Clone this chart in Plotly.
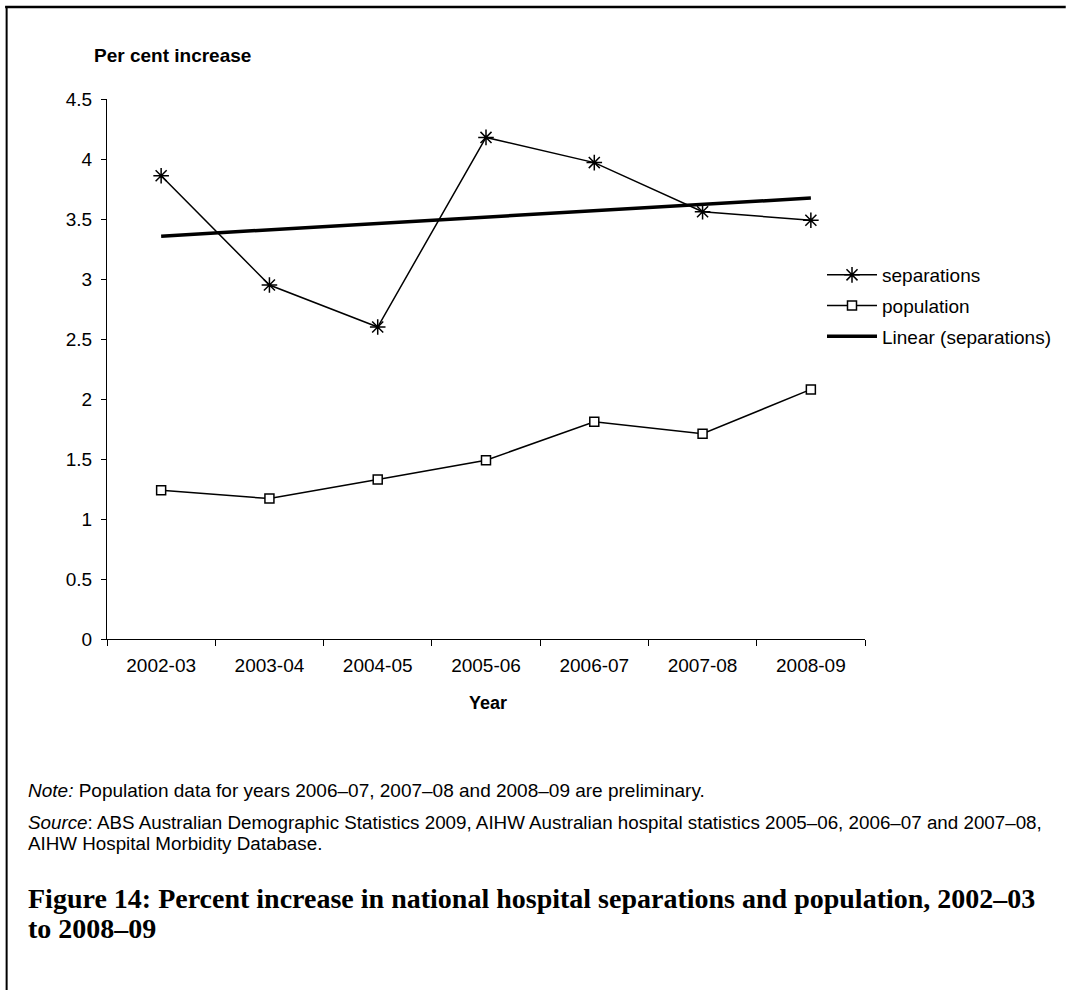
import numpy as np
import plotly.graph_objects as go

years = ["2002-03", "2003-04", "2004-05", "2005-06", "2006-07", "2007-08", "2008-09"]
separations = [3.86, 2.95, 2.60, 4.18, 3.97, 3.56, 3.49]
population = [1.24, 1.17, 1.33, 1.49, 1.81, 1.71, 2.08]
y_ticks = [0, 0.5, 1, 1.5, 2, 2.5, 3, 3.5, 4, 4.5]

# Linear trend of separations (least squares)
xi = np.arange(len(years))
slope, intercept = np.polyfit(xi, separations, 1)
trend = list(intercept + slope * xi)

W, H = 1067, 990
L, R, T, B = 107, 866, 99, 639  # plot area in px


def px(x):
    return (x - L) / (R - L)


def py(y):
    return (B - y) / (B - T)


fig = go.Figure()
fig.add_trace(go.Scatter(
    x=years, y=separations, name="separations", mode="lines+markers",
    line=dict(color="black", width=1.5),
    marker=dict(symbol="asterisk-open", size=13, color="black", line=dict(color="black", width=1.5)),
    legendgroup="a",
))
fig.add_trace(go.Scatter(
    x=years, y=population, name="population", mode="lines+markers",
    line=dict(color="black", width=1.5),
    marker=dict(symbol="square", size=9, color="white", line=dict(color="black", width=1.5)),
    legendgroup="b",
))
fig.add_trace(go.Scatter(
    x=years, y=trend, name="Linear (separations)", mode="lines",
    line=dict(color="black", width=3.5),
    legendgroup="c",
))

font = "Arial, Liberation Sans, sans-serif"
serif = "Book Antiqua, Palatino Linotype, Liberation Serif, serif"

annotations = [
    dict(text="<b>Per cent increase</b>", x=px(92), y=py(55), xanchor="left", yanchor="middle",
         font=dict(size=19, family=font, color="black")),
    dict(text="<b>Year</b>", x=px(489), y=py(703), xanchor="center", yanchor="middle",
         font=dict(size=18, family=font, color="black")),
    dict(text="<i>Note:</i> Population data for years 2006\u201307, 2007\u201308 and 2008\u201309 are preliminary.",
         x=px(26), y=py(790), xanchor="left", yanchor="middle",
         font=dict(size=19, family=font, color="black")),
    dict(text="<i>Source</i>: ABS Australian Demographic Statistics 2009, AIHW Australian hospital statistics 2005\u201306, 2006\u201307 and 2007\u201308,",
         x=px(26), y=py(822), xanchor="left", yanchor="middle",
         font=dict(size=18.8, family=font, color="black")),
    dict(text="AIHW Hospital Morbidity Database.",
         x=px(26), y=py(843), xanchor="left", yanchor="middle",
         font=dict(size=18.8, family=font, color="black")),
    dict(text="<b>Figure 14: Percent increase in national hospital separations and population, 2002\u201303</b>",
         x=px(26), y=py(898), xanchor="left", yanchor="middle",
         font=dict(size=28, family=serif, color="black")),
    dict(text="<b>to 2008\u201309</b>",
         x=px(26), y=py(928), xanchor="left", yanchor="middle",
         font=dict(size=28, family=serif, color="black")),
]
for a in annotations:
    a.update(xref="paper", yref="paper", showarrow=False)

shapes = [
    dict(type="line", xref="paper", yref="paper", x0=px(5), x1=px(1067), y0=py(7), y1=py(7),
         line=dict(color="black", width=2.5)),
    dict(type="line", xref="paper", yref="paper", x0=px(6.5), x1=px(6.5), y0=py(6), y1=py(990),
         line=dict(color="black", width=2)),
]

fig.update_layout(
    width=W, height=H,
    margin=dict(l=L, r=W - R, t=T, b=H - B, pad=0),
    paper_bgcolor="white", plot_bgcolor="white",
    font=dict(family=font, color="black"),
    showlegend=True,
    legend=dict(x=px(822), y=py(256), xanchor="left", yanchor="top",
                font=dict(size=19, family=font, color="black"),
                itemwidth=50,
                traceorder="grouped", tracegroupgap=3, bgcolor="rgba(0,0,0,0)"),
    annotations=annotations,
    shapes=shapes,
)
fig.update_xaxes(
    type="category", range=[-0.5, 6.5], tickson="boundaries",
    showline=True, linecolor="black", linewidth=1,
    ticks="outside", ticklen=6, tickcolor="black",
    ticklabelstandoff=9,
    showgrid=False, zeroline=False,
    tickfont=dict(size=19, family=font, color="black"),
)
fig.update_yaxes(
    range=[0, 4.5], tickvals=y_ticks, ticktext=[f"{v:g}" for v in y_ticks],
    showline=True, linecolor="black", linewidth=1,
    ticks="outside", ticklen=5, tickcolor="black",
    ticklabelstandoff=5,
    showgrid=False, zeroline=False,
    tickfont=dict(size=19, family=font, color="black"),
)

fig.write_html("out.html")
